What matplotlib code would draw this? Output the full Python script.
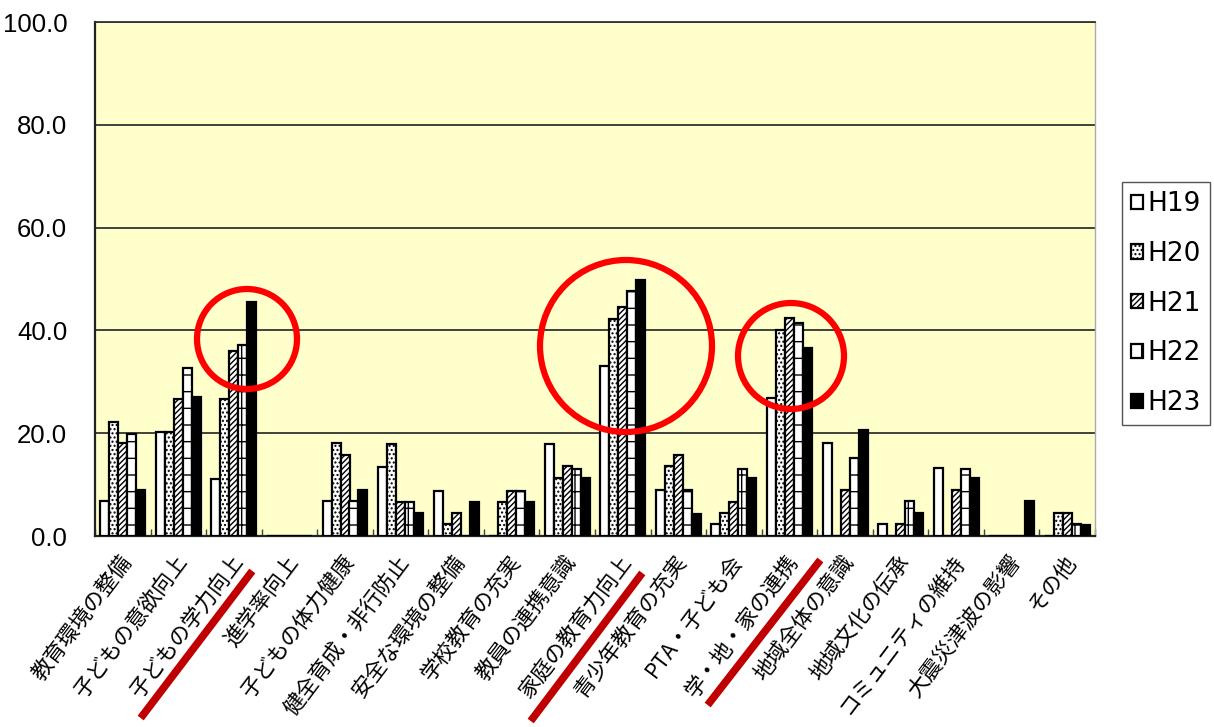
import matplotlib
matplotlib.use("Agg")
import matplotlib.pyplot as plt
import matplotlib.transforms as mtransforms
from matplotlib.patches import Ellipse
from matplotlib.lines import Line2D
import numpy as np

categories = ["教育環境の整備", "子どもの意欲向上", "子どもの学力向上", "進学率向上",
              "子どもの体力健康", "健全育成・非行防止", "安全な環境の整備", "学校教育の充実",
              "教員の連携意識", "家庭の教育力向上", "青少年教育の充実", "PTA・子ども会",
              "学・地・家の連携", "地域全体の意識", "地域文化の伝承", "コミュニティの維持",
              "大震災津波の影響", "その他"]
series_names = ["H19", "H20", "H21", "H22", "H23"]
h19 = [6.8, 20.2, 11.1, 0, 6.8, 13.4, 8.8, 0, 17.9, 33.1, 8.9, 2.3, 26.8, 18.0, 2.3, 13.2, 0, 0]
h20 = [22.2, 20.2, 26.7, 0, 18.0, 17.9, 2.3, 6.6, 11.3, 42.2, 13.6, 4.5, 40.1, 0, 0, 0, 0, 4.5]
h21 = [18.0, 26.7, 35.9, 0, 15.8, 6.6, 4.4, 8.8, 13.6, 44.6, 15.8, 6.7, 42.4, 8.9, 2.3, 8.9, 0, 4.5]
h22 = [19.8, 32.6, 37.2, 0, 6.8, 6.6, 0, 8.8, 13.0, 47.7, 8.9, 13.0, 41.5, 15.1, 6.8, 13.0, 0, 2.3]
h23 = [8.9, 27.1, 45.5, 0, 8.9, 4.4, 6.7, 6.6, 11.2, 49.8, 4.3, 11.2, 36.5, 20.6, 4.4, 11.2, 6.8, 2.1]
yticks = [0, 20, 40, 60, 80, 100]

series = [h19, h20, h21, h22, h23]
faces = ["white", "white", "white", "white", "black"]
hatches = [None, "....", "//////", "-|", None]

W, H = 1214, 727
fig = plt.figure(figsize=(W / 100, H / 100), dpi=100)
ax = fig.add_axes([95 / W, 1 - 536 / H, 1000 / W, 514 / H])
ax.set_facecolor("#FFFFCC")

plt.rcParams['hatch.linewidth'] = 1.0
n = len(categories)
x = np.arange(n)
bw = 0.162
for i, (vals, fc, ht, name) in enumerate(zip(series, faces, hatches, series_names)):
    offs = (i - 2) * bw
    ax.bar(x + offs, vals, width=bw, color=fc, edgecolor="black", linewidth=1.6,
           hatch=ht, label=name, zorder=3)

ax.set_xlim(-0.5, n - 0.5)
ax.set_ylim(0, 100)
ax.set_yticks(yticks)
ax.set_yticklabels([f"{v:.1f}" for v in yticks],
                   fontfamily=["Liberation Sans", "DejaVu Sans"], fontsize=18.5)
ax.tick_params(axis="y", length=0, pad=20)
ax.yaxis.grid(True, color="#333333", linewidth=1.3, zorder=1)
ax.set_axisbelow(True)

# category labels
ax.set_xticks(x)
ax.set_xticklabels(categories, rotation=53, ha="right", va="top", rotation_mode="anchor",
                   fontfamily=["Noto Sans CJK JP", "DejaVu Sans"], fontsize=15.5)
ax.tick_params(axis="x", length=0, pad=11)
offset = mtransforms.ScaledTranslation(-4 / 100, 0, fig.dpi_scale_trans)
for lab in ax.get_xticklabels():
    lab.set_transform(lab.get_transform() + offset)
# boundary minor ticks
ax.set_xticks(np.arange(-0.5, n, 1.0), minor=True)
ax.tick_params(axis="x", which="minor", direction="in", length=5, width=1, color="#444444")

for s in ["left", "bottom"]:
    ax.spines[s].set_color("#222222")
    ax.spines[s].set_linewidth(1.6)
ax.spines["top"].set_color("#333333")
ax.spines["top"].set_linewidth(1.3)
ax.spines["right"].set_color("#AAAAAA")
ax.spines["right"].set_linewidth(1.0)

leg = fig.legend(loc="upper left", bbox_to_anchor=(1122 / W, 1 - 182 / H),
                 prop={"family": "DejaVu Sans", "size": 19},
                 handlelength=0.45, handleheight=0.45, handletextpad=0.15,
                 labelspacing=0.9, borderpad=0.35, borderaxespad=0, fancybox=False,
                 edgecolor="#555555", framealpha=1)
leg.get_frame().set_linewidth(1.0)

# red annotation circles (figure pixel coordinates)
def circ(cx, cy, r):
    e = Ellipse((cx / W, 1 - cy / H), 2 * r / W, 2 * r / H, transform=fig.transFigure,
                fill=False, edgecolor="#FF0000", linewidth=4.5, zorder=10)
    fig.add_artist(e)

circ(247, 339, 50)
circ(626, 346, 86)
circ(791, 356, 53)

def uline(x0, y0, x1, y1):
    fig.add_artist(Line2D([x0 / W, x1 / W], [1 - y0 / H, 1 - y1 / H], transform=fig.transFigure,
                          color="#C00000", linewidth=5.5, zorder=10))

uline(143, 715, 250, 574)
uline(533, 718, 640, 576)
uline(710, 702, 818, 563)

fig.savefig("out.png", dpi=100)
